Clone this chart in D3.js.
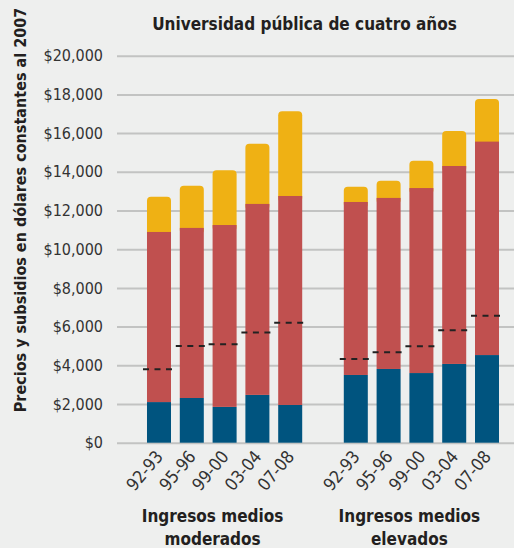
<!DOCTYPE html>
<html>
<head>
<meta charset="utf-8">
<script src="https://cdn.jsdelivr.net/npm/d3@7"></script>
<style>
    body { margin: 0; background: #eeefee; }
    svg { display: block; }
    .tick text { font-family: "Liberation Sans Narrow", "DejaVu Sans Condensed", "Roboto", sans-serif; font-size: 16px; fill: #333; }
    .tick line { stroke: #c2c3c2; stroke-width: 2; }
    .bold { font-family: "Liberation Sans Narrow", "DejaVu Sans Condensed", "Roboto", sans-serif; font-weight: bold; fill: #231f20; }
</style>
</head>
<body>
<div id="viz_container"></div>
<script>
// periods and income groups
const periods = ["92-93", "95-96", "99-00", "03-04", "07-08"];
const groups = ["moderados", "elevados"];
const groupLabels = [["Ingresos medios", "moderados"], ["Ingresos medios", "elevados"]];

// segment amounts (bottom to top), per group
const blueValues = [[2100, 2310, 1850, 2470, 1950], [3500, 3810, 3600, 4070, 4530]];
const redValues = [[8790, 8790, 9400, 9870, 10800], [8940, 8840, 9560, 10230, 11030]];
const yellowValues = [[1820, 2180, 2830, 3110, 4380], [790, 890, 1410, 1810, 2200]];
// dashed markers
const dashValues = [[3790, 5000, 5090, 5690, 6200], [4330, 4670, 4980, 5810, 6560]];

const yTicks = [0, 2000, 4000, 6000, 8000, 10000, 12000, 14000, 16000, 18000, 20000];

const width = 514, height = 548;
const gridLeft = 117;

// build rows
const rows = [];
groups.forEach((g, gi) => {
    periods.forEach((p, pi) => {
        rows.push({
            key: g + "|" + p, group: g, period: p,
            blue: blueValues[gi][pi], red: redValues[gi][pi], yellow: yellowValues[gi][pi],
            dash: dashValues[gi][pi]
        });
    });
});

const slots = [];
groups.forEach((g, gi) => {
    if (gi > 0) slots.push("gap");
    periods.forEach(p => slots.push(g + "|" + p));
});

const svg = d3.select("#viz_container")
    .append("svg")
    .attr("width", width)
    .attr("height", height);

const xScale = d3.scaleBand()
    .domain(slots)
    .range([138.2, 507.8])
    .padding(0.268);

const yScale = d3.scaleLinear()
    .domain([0, 20000])
    .range([442.7, 55.7]);

// grid + y axis
svg.append("g")
    .attr("transform", `translate(${gridLeft}, 0)`)
    .call(d3.axisLeft(yScale)
        .tickValues(yTicks)
        .tickSizeInner(-(width - gridLeft))
        .tickSizeOuter(0)
        .tickPadding(14)
        .tickFormat(d => "$" + d3.format(",")(d)))
    .call(g => g.select(".domain").remove());

// stack
const keys = ["blue", "red", "yellow"];
const color = d3.scaleOrdinal().domain(keys).range(["#00547f", "#c0504f", "#efb114"]);
const stacked = d3.stack().keys(keys)(rows);

// yellow top segment with rounded corners (drawn first, red covers its lower edge)
const bw = xScale.bandwidth();
svg.append("g")
    .selectAll("rect")
    .data(stacked[2])
    .join("rect")
    .attr("x", d => xScale(d.data.key))
    .attr("y", d => yScale(d[1]))
    .attr("width", bw)
    .attr("height", d => yScale(d[0]) - yScale(d[1]) + 6)
    .attr("rx", 4)
    .attr("fill", color("yellow"));

svg.append("g")
    .selectAll("g")
    .data(stacked.slice(0, 2))
    .join("g")
    .attr("fill", d => color(d.key))
    .selectAll("rect")
    .data(d => d)
    .join("rect")
    .attr("x", d => xScale(d.data.key))
    .attr("y", d => yScale(d[1]))
    .attr("width", bw)
    .attr("height", d => yScale(d[0]) - yScale(d[1]));

// dashed markers
svg.append("g")
    .selectAll("line")
    .data(rows)
    .join("line")
    .attr("x1", d => xScale(d.key) - 4)
    .attr("x2", d => xScale(d.key) + bw + 2)
    .attr("y1", d => yScale(d.dash))
    .attr("y2", d => yScale(d.dash))
    .attr("stroke", "#222")
    .attr("stroke-width", 2)
    .attr("stroke-dasharray", "6,5.5");

// rotated period labels
svg.append("g")
    .selectAll("text")
    .data(rows)
    .join("text")
    .attr("transform", d => `translate(${xScale(d.key) + bw / 2 + 5}, 457) rotate(-50)`)
    .attr("text-anchor", "end")
    .style("font-family", '"Liberation Sans Narrow", "DejaVu Sans Condensed", "Roboto", sans-serif')
    .style("font-size", "17.5px")
    .style("fill", "#333")
    .text(d => d.period);

// group labels
groups.forEach((g, gi) => {
    const first = xScale(g + "|" + periods[0]);
    const last = xScale(g + "|" + periods[periods.length - 1]) + bw;
    const cx = (first + last) / 2 - 12;
    const t = svg.append("text")
        .attr("class", "bold")
        .attr("x", cx)
        .attr("y", 522)
        .attr("text-anchor", "middle")
        .style("font-size", "17px");
    groupLabels[gi].forEach((line, li) => {
        t.append("tspan")
            .attr("x", cx)
            .attr("dy", li === 0 ? 0 : 23)
            .text(line);
    });
});

// title
svg.append("text")
    .attr("class", "bold")
    .attr("x", 304.5)
    .attr("y", 30)
    .attr("text-anchor", "middle")
    .style("font-size", "17px")
    .text("Universidad pública de cuatro años");

// y axis label
svg.append("text")
    .attr("class", "bold")
    .attr("transform", "translate(26, 210) rotate(-90)")
    .attr("text-anchor", "middle")
    .style("font-size", "16px")
    .text("Precios y subsidios en dólares constantes al 2007");
</script>
</body>
</html>
